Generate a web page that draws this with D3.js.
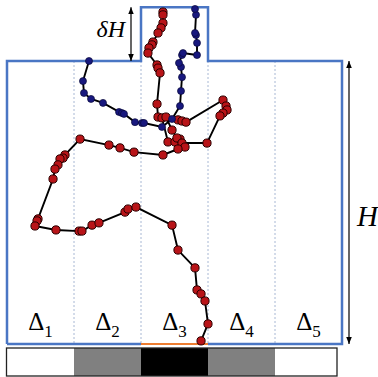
<!DOCTYPE html>
<html>
<head>
<meta charset="utf-8">
<script src="https://cdn.jsdelivr.net/npm/d3@7"></script>
<style>
  body { margin: 0; background: #fff; }
  svg { display: block; }
</style>
</head>
<body>
<svg id="chart" width="378" height="377"></svg>
<script>
// column units (Δ widths) on x, heights in units of H on y
const columns = ["1", "2", "3", "4", "5"];
const stripLevels = [0, 0.5, 1, 0.5, 0];
const deltaH = 0.19;

const blueX = [1.224, 1.134, 1.149, 1.254, 1.433, 1.672, 1.716, 1.746, 1.910, 2.015, 2.045, 2.313, 2.463,
  2.582, 2.597, 2.612, 2.597, 2.567, 2.612, 2.627, 2.836, 2.836, 2.821, 2.806, 2.821, 2.806];
const blueY = [1.000, 0.929, 0.887, 0.866, 0.852, 0.820, 0.816, 0.813, 0.784, 0.781, 0.781, 0.767, 0.795,
  0.841, 0.894, 0.943, 0.979, 0.993, 1.021, 1.028, 1.021, 1.064, 1.092, 1.099, 1.163, 1.184];

const redX = [2.328, 2.328, 2.328, 2.299, 2.254, 2.179, 2.164, 2.119, 2.104, 2.239, 2.254, 2.284, 2.239,
  2.254, 2.313, 2.403, 2.507, 2.582, 2.537, 2.463, 2.373, 2.552, 2.612, 2.672, 3.224, 3.269, 3.284,
  3.224, 3.179, 2.985, 2.612, 2.657, 2.552, 2.328, 1.896, 1.687, 1.522, 1.090, 0.866, 0.836, 0.791,
  0.761, 0.716, 0.687, 0.463, 0.448, 0.418, 0.731, 1.075, 1.119, 1.269, 1.373, 1.761, 1.806, 1.925,
  2.463, 2.552, 2.806, 2.836, 2.896, 2.955, 3.000, 2.896];
const redY = [1.173, 1.163, 1.134, 1.117, 1.099, 1.067, 1.057, 1.046, 1.028, 0.986, 0.975, 0.958, 0.848,
  0.802, 0.799, 0.714, 0.714, 0.724, 0.728, 0.756, 0.802, 0.792, 0.788, 0.784, 0.862, 0.841, 0.827,
  0.816, 0.806, 0.710, 0.710, 0.696, 0.689, 0.668, 0.678, 0.693, 0.703, 0.724, 0.668, 0.657, 0.654,
  0.633, 0.618, 0.583, 0.442, 0.435, 0.417, 0.403, 0.399, 0.399, 0.420, 0.428, 0.466, 0.477, 0.484,
  0.420, 0.332, 0.269, 0.191, 0.177, 0.152, 0.071, 0.011];

const svg = d3.select("#chart");

const x = d3.scaleLinear().domain([0, 5]).range([7, 342]);
const y = d3.scaleLinear().domain([0, 1]).range([344, 61]);
const grey = d3.scaleLinear().domain([0, 1]).range(["#ffffff", "#000000"]);
const serif = "'Liberation Serif', 'Times New Roman', serif";

const blue = blueX.map((v, i) => [v, blueY[i]]);
const red = redX.map((v, i) => [v, redY[i]]);

// arrow heads
const defs = svg.append("defs");
["start", "end"].forEach(k => {
  defs.append("marker")
    .attr("id", "arrow-" + k)
    .attr("viewBox", "0 0 10 10")
    .attr("refX", 10).attr("refY", 5)
    .attr("markerWidth", 7).attr("markerHeight", 7)
    .attr("markerUnits", "userSpaceOnUse")
    .attr("orient", k === "start" ? "auto-start-reverse" : "auto")
    .append("path")
    .attr("d", "M0,1 L10,5 L0,9 Z")
    .attr("fill", "#000");
});

// column dividers
svg.append("g")
  .selectAll("line")
  .data(d3.range(1, 5))
  .enter()
  .append("line")
  .attr("x1", d => x(d)).attr("x2", d => x(d))
  .attr("y1", y(1)).attr("y2", y(0))
  .attr("stroke", "#a8b8d4")
  .attr("stroke-width", 1)
  .attr("stroke-dasharray", "2,2");

// container outline
const outline = [[0, 0], [0, 1], [2, 1], [2, 1 + deltaH], [3, 1 + deltaH], [3, 1], [5, 1], [5, 0], [3, 0]];
svg.append("path")
  .attr("d", d3.line().x(d => x(d[0])).y(d => y(d[1]))(outline))
  .attr("fill", "none")
  .attr("stroke", "#4a76c4")
  .attr("stroke-width", 2.5);
svg.append("line")
  .attr("x1", x(0)).attr("x2", x(2))
  .attr("y1", y(0)).attr("y2", y(0))
  .attr("stroke", "#4a76c4").attr("stroke-width", 2.5);
svg.append("line")
  .attr("x1", x(2)).attr("x2", x(3))
  .attr("y1", y(0)).attr("y2", y(0))
  .attr("stroke", "#ed7d31").attr("stroke-width", 2);

// column labels
const labels = svg.append("g")
  .attr("font-family", serif)
  .attr("fill", "#000");
labels.selectAll("text")
  .data(columns)
  .enter()
  .append("text")
  .attr("x", (d, i) => x(i + 0.5))
  .attr("y", 330)
  .attr("text-anchor", "middle")
  .attr("font-size", 25)
  .each(function(d) {
    const t = d3.select(this);
    t.append("tspan").text("\u0394");
    t.append("tspan").attr("font-size", 17).attr("dy", 7).text(d);
  });

// strip under the box
const strip = svg.append("g");
strip.selectAll("rect")
  .data(stripLevels)
  .enter()
  .append("rect")
  .attr("x", (d, i) => x(i))
  .attr("y", 348)
  .attr("width", (d, i) => i === 4 ? x(1) - x(0) - 5 : x(1) - x(0))
  .attr("height", 28)
  .attr("fill", d => grey(d));
strip.append("rect")
  .attr("x", x(0) - 0.5)
  .attr("y", 348)
  .attr("width", x(5) - x(0) - 4.5)
  .attr("height", 28)
  .attr("fill", "none")
  .attr("stroke", "#222")
  .attr("stroke-width", 1.3);

// trajectories
const line = d3.line().x(d => x(d[0])).y(d => y(d[1]));

svg.append("path")
  .attr("d", line(red))
  .attr("fill", "none")
  .attr("stroke", "#000")
  .attr("stroke-width", 1.9);
svg.append("g")
  .selectAll("circle")
  .data(red)
  .enter()
  .append("circle")
  .attr("cx", d => x(d[0]))
  .attr("cy", d => y(d[1]))
  .attr("r", 4.1)
  .attr("fill", "#b81418")
  .attr("stroke", "#2a0000")
  .attr("stroke-width", 1);

svg.append("path")
  .attr("d", line(blue))
  .attr("fill", "none")
  .attr("stroke", "#000")
  .attr("stroke-width", 1.9);
svg.append("g")
  .selectAll("circle")
  .data(blue)
  .enter()
  .append("circle")
  .attr("cx", d => x(d[0]))
  .attr("cy", d => y(d[1]))
  .attr("r", 3.5)
  .attr("fill", "#18187e")
  .attr("stroke", "#08083a")
  .attr("stroke-width", 0.7);

// dimension arrows
svg.append("line")
  .attr("x1", 131).attr("x2", 131)
  .attr("y1", y(1)).attr("y2", y(1 + deltaH))
  .attr("stroke", "#000").attr("stroke-width", 1.2)
  .attr("marker-start", "url(#arrow-start)")
  .attr("marker-end", "url(#arrow-end)");
svg.append("line")
  .attr("x1", 349).attr("x2", 349)
  .attr("y1", y(0)).attr("y2", y(1))
  .attr("stroke", "#000").attr("stroke-width", 1.2)
  .attr("marker-start", "url(#arrow-start)")
  .attr("marker-end", "url(#arrow-end)");

svg.append("text")
  .attr("x", 125).attr("y", 37)
  .attr("text-anchor", "end")
  .attr("font-family", serif)
  .attr("font-style", "italic")
  .attr("font-size", 24)
  .text("\u03B4H");
svg.append("text")
  .attr("x", 357).attr("y", 226)
  .attr("font-family", serif)
  .attr("font-style", "italic")
  .attr("font-size", 29)
  .text("H");
</script>
</body>
</html>
